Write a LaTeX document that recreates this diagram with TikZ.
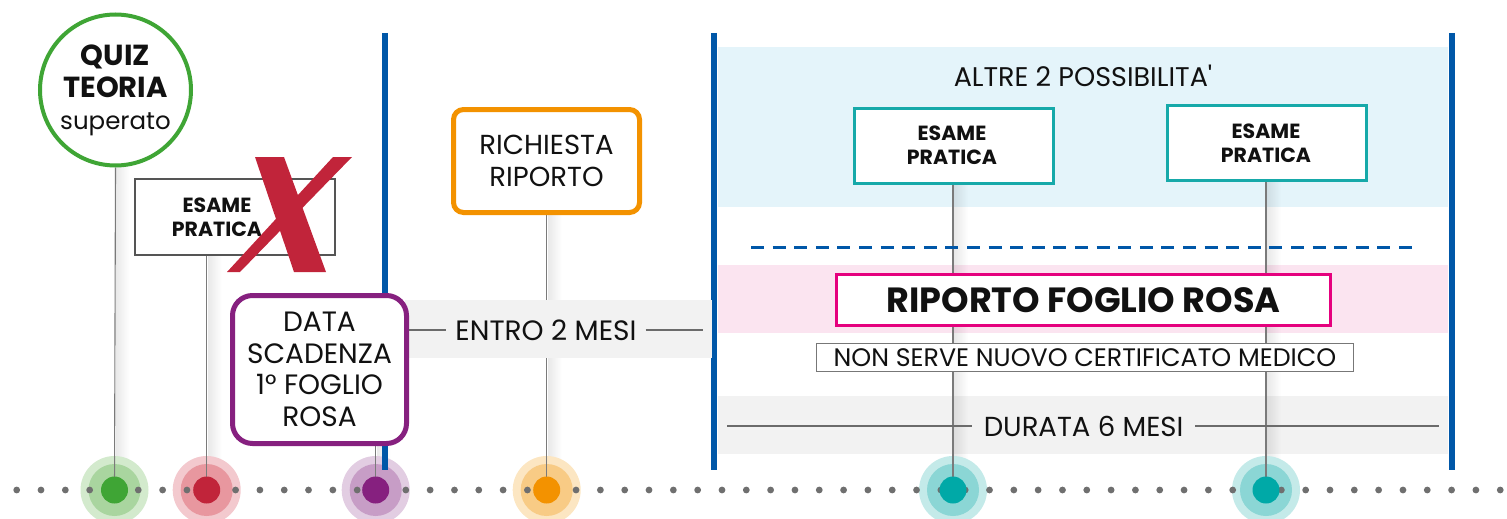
\documentclass[tikz,border=0pt]{standalone}
\usepackage{fontspec}
\setmainfont{Poppins}
\usetikzlibrary{fadings}
\pgfdeclarelayer{bg}
\pgfdeclarelayer{mid}
\pgfsetlayers{bg,mid,main}
\definecolor{ink}{HTML}{111111}
\definecolor{tlblue}{HTML}{0057A8}
\definecolor{qgreen}{HTML}{3FA535}
\definecolor{gring1}{HTML}{D3EACD}
\definecolor{gring2}{HTML}{A9D59F}
\definecolor{xred}{HTML}{C1243A}
\definecolor{rring1}{HTML}{F3C9CE}
\definecolor{rring2}{HTML}{E8979F}
\definecolor{dpurple}{HTML}{86207F}
\definecolor{pring1}{HTML}{E2CDE2}
\definecolor{pring2}{HTML}{C79DC6}
\definecolor{dorange}{HTML}{F39200}
\definecolor{oring1}{HTML}{FCE6C2}
\definecolor{oring2}{HTML}{F8CB85}
\definecolor{dteal}{HTML}{00A9A7}
\definecolor{tring1}{HTML}{C4EAE9}
\definecolor{tring2}{HTML}{8BD6D5}
\definecolor{boxteal}{HTML}{16A9A9}
\definecolor{boxgray}{HTML}{555555}
\definecolor{bandgray}{HTML}{F2F2F2}
\definecolor{lblue}{HTML}{E4F4FA}
\definecolor{lpink}{HTML}{FBE4F0}
\definecolor{dmagenta}{HTML}{E5007E}
\definecolor{stemgray}{HTML}{7A7A7A}
\definecolor{dotgray}{HTML}{6F6F6F}
\definecolor{linegray}{HTML}{6B6B6B}
\tikzset{
  txt/.style={font=\fontsize{28}{31.5}\selectfont, text=ink, align=center, inner sep=0pt},
  smallbold/.style={font=\fontsize{20.5}{24}\selectfont\bfseries, text=ink, align=center, inner sep=0pt},
  tealbox/.style={draw=boxteal, line width=3pt, fill=white, minimum width=199pt, minimum height=75pt},
  stem/.style={draw=stemgray, line width=1.1pt},
  gline/.style={draw=linegray, line width=2.2pt},
  sepline/.style={draw=tlblue, line width=6pt},
  marker/.style={circle, minimum size=27pt, inner sep=0pt},
}
\begin{document}
\begin{tikzpicture}[x=1pt,y=-1pt]
\useasboundingbox (0,0) rectangle (1507,519);
% band behind "ENTRO 2 MESI" (covers the stem)
\fill[bandgray] (405,300) rectangle (712,358);

% nodes
\node[circle, draw=qgreen, line width=4pt, minimum size=151pt, inner sep=0pt, fill=white,
      font=\fontsize{29}{32}\selectfont, text=ink, align=center] (quiz) at (115.5,90)
      {\textbf{QUIZ}\\\textbf{TEORIA}\\{\fontsize{24.5}{32}\selectfont superato}};

\node[draw=boxgray, line width=2pt, minimum width=200pt, minimum height=76pt] (ep0) at (235,217) {};
\node[smallbold] (ep0t) at (217,217) {ESAME\\PRATICA};

\node[draw=dpurple, line width=5pt, rounded corners=20pt, minimum width=174pt, minimum height=148pt,
      fill=white, txt] (data) at (319.5,369.5) {DATA\\SCADENZA\\1° FOGLIO\\ROSA};

\node[draw=dorange, line width=5pt, rounded corners=10pt, minimum width=186pt, minimum height=103pt,
      fill=white, txt, font=\fontsize{27.5}{32}\selectfont] (rich) at (546.5,161) {RICHIESTA\\RIPORTO};

\node[txt, inner xsep=9pt] (entro) at (546,330) {ENTRO 2 MESI};
\coordinate (e2) at (703,330);

\node[txt, font=\fontsize{27}{30}\selectfont] (altre) at (1083,76) {ALTRE 2 POSSIBILITA\textquotesingle};
\node[tealbox] (ep1) at (954,146) {};
\node[smallbold] (ep1t) at (952,145) {ESAME\\PRATICA};
\node[tealbox] (ep2) at (1266.5,143) {};
\node[smallbold] (ep2t) at (1266,143) {ESAME\\PRATICA};

\node[draw=dmagenta, line width=3pt, fill=white, minimum width=494pt, minimum height=51pt,
      font=\fontsize{35}{38}\selectfont\bfseries, text=ink, inner sep=0pt] (rip) at (1083.5,300) {RIPORTO FOGLIO ROSA};
\node[draw=boxgray!80, line width=1pt, fill=white, minimum width=537pt, minimum height=28pt,
      font=\fontsize{25.3}{26}\selectfont, text=ink, inner sep=0pt] (nonserve) at (1085,357.5) {NON SERVE NUOVO CERTIFICATO MEDICO};

\node[txt, font=\fontsize{27.5}{30}\selectfont, inner xsep=12pt] (durata) at (1083.5,426) {DURATA 6 MESI};
\coordinate (d1) at (727,426);
\coordinate (d2) at (1439,426);

% markers (inner dots)
\node[marker, fill=qgreen] (m1) at (114.5,490) {};
\node[marker, fill=xred] (m2) at (206.7,490) {};
\node[marker, fill=dpurple] (m3) at (375.7,490) {};
\node[marker, fill=dorange] (m4) at (546.7,490) {};
\node[marker, fill=dteal] (m5) at (953,490) {};
\node[marker, fill=dteal] (m6) at (1266,490) {};

% red cross
\fill[xred] (255,157) -- (284,157) -- (326,272) -- (294,272) -- cycle;
\fill[xred] (333,157) -- (352,157) -- (240,272) -- (227,272) -- cycle;

% connectors of the durations
\draw[gline] (data.east |- entro.west) -- (entro.west);
\draw[gline] (entro.east) -- (e2);
\draw[gline] (d1) -- (durata.west);
\draw[gline] (durata.east) -- (d2);

\begin{pgfonlayer}{bg}
  \fill[lblue] (718,47) rectangle (1448,207);
  \fill[lpink] (718,265) rectangle (1448,333);
  \fill[bandgray] (718,396) rectangle (1448,454);
  % shadows beside stems
  \foreach \x/\ya in {114.5/167, 206.7/256, 375.7/446, 546.7/214, 953/185, 1266/182}{
    \fill[black, opacity=0.09, path fading=east] (\x+1,\ya) rectangle (\x+15,470);
  }
  % rings
  \foreach \m/\ca/\cb in {m1/gring1/gring2, m2/rring1/rring2, m3/pring1/pring2, m4/oring1/oring2, m5/tring1/tring2, m6/tring1/tring2}{
    \fill[\ca] (\m) circle (34);
    \fill[\cb] (\m) circle (26);
  }
\end{pgfonlayer}

\begin{pgfonlayer}{mid}
  \draw[stem] (quiz.south) -- (m1.center);
  \draw[stem] (m2 |- ep0.south) -- (m2.center);
  \draw[stem] (m3 |- data.south) -- (m3.center);
  \draw[stem] (m4 |- rich.south) -- (m4.center);
  \draw[stem] (m5 |- ep1.south) -- (m5.center);
  \draw[stem] (m6 |- ep2.south) -- (m6.center);
  % timeline dots
  \foreach \i in {0,...,61}{
    \fill[dotgray] (16.7+\i*24.32,490) circle (3.4);
  }
  % separators
  \draw[sepline] (385,33) -- (385,470);
  \draw[sepline] (714,33) -- (714,470);
  \draw[sepline] (1452,33) -- (1452,470);
  % dashed divider
  \draw[tlblue, line width=3pt, dash pattern=on 13pt off 8.6pt] (751,247) -- (1420,247);
\end{pgfonlayer}
\end{tikzpicture}
\end{document}
